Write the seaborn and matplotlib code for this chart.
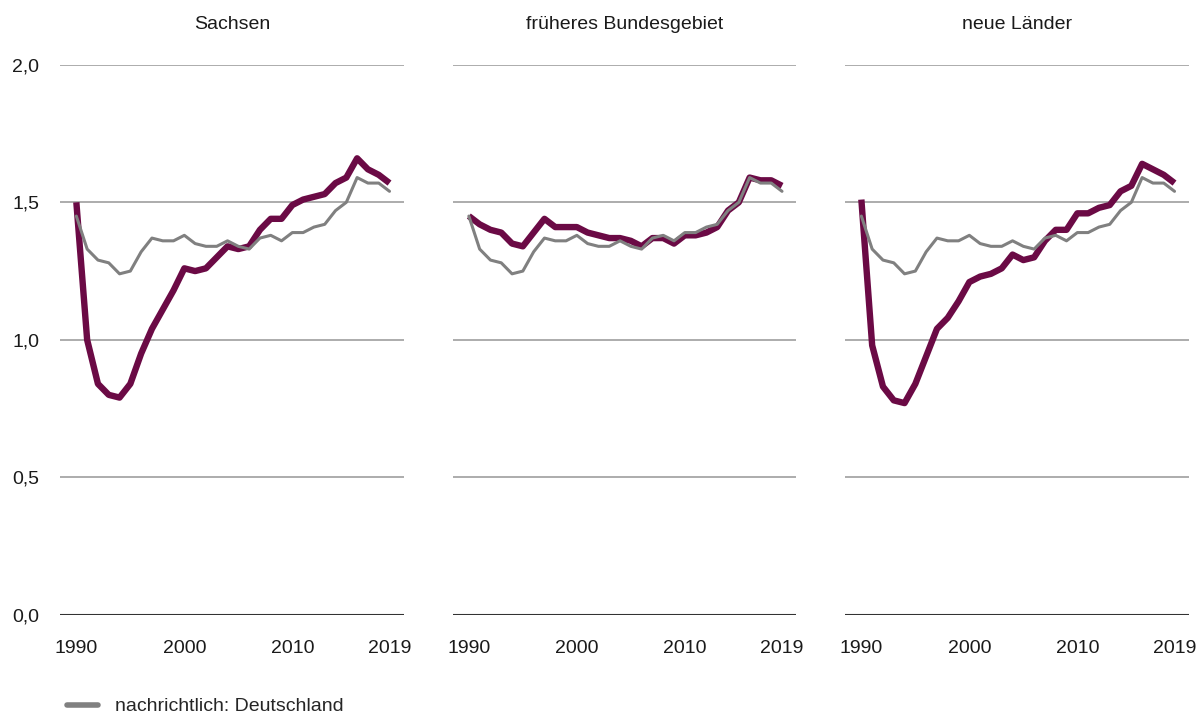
import numpy as np
import pandas as pd
import seaborn as sns
import matplotlib.pyplot as plt
from matplotlib.lines import Line2D

years = list(range(1990, 2020))

deutschland = [1.45, 1.33, 1.29, 1.28, 1.24, 1.25, 1.32, 1.37, 1.36, 1.36,
               1.38, 1.35, 1.34, 1.34, 1.36, 1.34, 1.33, 1.37, 1.38, 1.36,
               1.39, 1.39, 1.41, 1.42, 1.47, 1.50, 1.59, 1.57, 1.57, 1.54]

sachsen = [1.50, 1.00, 0.84, 0.80, 0.79, 0.84, 0.95, 1.04, 1.11, 1.18,
           1.26, 1.25, 1.26, 1.30, 1.34, 1.33, 1.34, 1.40, 1.44, 1.44,
           1.49, 1.51, 1.52, 1.53, 1.57, 1.59, 1.66, 1.62, 1.60, 1.57]

frueheres_bg = [1.45, 1.42, 1.40, 1.39, 1.35, 1.34, 1.39, 1.44, 1.41, 1.41,
                1.41, 1.39, 1.38, 1.37, 1.37, 1.36, 1.34, 1.37, 1.37, 1.35,
                1.38, 1.38, 1.39, 1.41, 1.47, 1.50, 1.59, 1.58, 1.58, 1.56]

neue_laender = [1.51, 0.98, 0.83, 0.78, 0.77, 0.84, 0.94, 1.04, 1.08, 1.14,
                1.21, 1.23, 1.24, 1.26, 1.31, 1.29, 1.30, 1.36, 1.40, 1.40,
                1.46, 1.46, 1.48, 1.49, 1.54, 1.56, 1.64, 1.62, 1.60, 1.57]

panels = ["Sachsen", "früheres Bundesgebiet", "neue Länder"]
region_values = [sachsen, frueheres_bg, neue_laender]

yticks = [0.0, 0.5, 1.0, 1.5, 2.0]
ytick_labels = ["0,0", "0,5", "1,0", "1,5", "2,0"]
xticks = [1990, 2000, 2010, 2019]

sns.set_theme(style="white")
plt.rcParams['font.family'] = ['Liberation Sans', 'DejaVu Sans']

purple = "#6b0a45"
grey = "#808080"

fig, axes = plt.subplots(1, 3, figsize=(12.03, 7.2), dpi=100, sharey=True)
fig.subplots_adjust(left=0.05, right=0.988, top=0.91, bottom=0.146, wspace=0.143)

for ax, name, vals in zip(axes, panels, region_values):
    df = pd.DataFrame({"Jahr": years, "Region": vals, "Deutschland": deutschland})
    for y in yticks[1:]:
        ax.axhline(y, color="#a6a6a6", lw=1.3, zorder=0)
    ax.axhline(0, color="#333333", lw=1.5, zorder=0)
    sns.lineplot(data=df, x="Jahr", y="Region", ax=ax, color=purple, lw=4.6,
                 zorder=2, solid_capstyle="butt")
    sns.lineplot(data=df, x="Jahr", y="Deutschland", ax=ax, color=grey, lw=2.2,
                 zorder=3)
    ax.set_xlim(1988.5, 2020.3)
    ax.set_ylim(0, 2.0)
    ax.set_xticks(xticks)
    ax.set_xticklabels([str(x) for x in xticks], fontsize=14, color="#1a1a1a")
    ax.set_yticks(yticks)
    ax.set_yticklabels(ytick_labels, fontsize=14, color="#1a1a1a")
    ax.tick_params(axis="x", length=0, pad=18)
    ax.tick_params(axis="y", length=0, pad=15)
    ax.set_xlabel("")
    ax.set_ylabel("")
    ax.set_title(name, fontsize=14, color="#1a1a1a", pad=26)
    for s in ax.spines.values():
        s.set_visible(False)

for ax in axes[1:]:
    ax.tick_params(axis="y", labelleft=False)

handle = Line2D([0], [0], color=grey, lw=4)
fig.legend([handle], ["nachrichtlich: Deutschland"], loc="lower left",
           bbox_to_anchor=(0.041, -0.018), frameon=False, fontsize=14,
           handlelength=1.6, handletextpad=0.9)

fig.savefig("out.png", dpi=100)
